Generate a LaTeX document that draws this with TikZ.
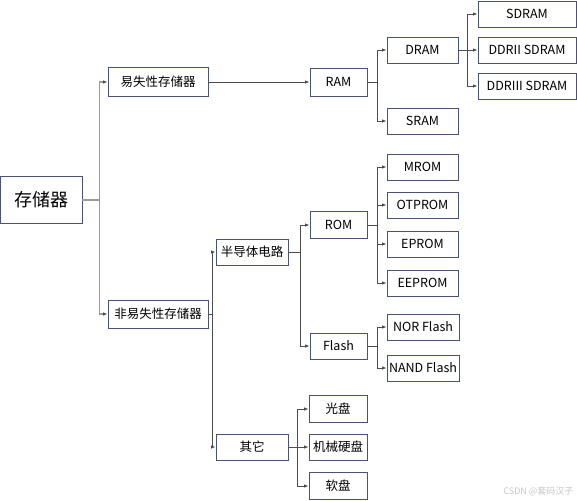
\documentclass[tikz,border=0pt]{standalone}
\usepackage{fontspec}
\setmainfont{Noto Sans CJK SC}
\usepackage{tikz}
\usetikzlibrary{arrows.meta}

\definecolor{boxline}{HTML}{4A5078}
\definecolor{linkline}{HTML}{4D4D4D}
\definecolor{rootline}{HTML}{9A9A9A}

\tikzset{
	box/.style={draw=boxline, fill=white, line width=0.9pt, inner sep=0pt, minimum height=26, font=\fontsize{12.5}{14}\selectfont},
	conn/.style={-{Latex[length=4.5pt,width=3.5pt]}, draw=linkline, line width=0.8pt},
	rootconn/.style={-{Latex[length=4.5pt,width=3.5pt,color=linkline]}, draw=rootline, line width=1.6pt},
}

\begin{document}
\begin{tikzpicture}[x=1pt, y=-1pt]
	\useasboundingbox (0,0) rectangle (577,500);

	% Root
	\node (root) at (41,200) [box, minimum width=82, minimum height=47, font=\fontsize{18}{20}\selectfont] {存储器};

	% First level
	\node (vol) at (158,82) [box, minimum width=100, minimum height=29] {易失性存储器};
	\node (nonvol) at (158,314) [box, minimum width=100, minimum height=28] {非易失性存储器};

	% Volatile branch
	\node (ram) at (338.5,82) [box, minimum width=57, minimum height=28] {RAM};
	\node (dram) at (422.5,50) [box, minimum width=71] {DRAM};
	\node (sram) at (422.5,121) [box, minimum width=71] {SRAM};
	\node (sdram) at (527,14) [box, minimum width=98] {SDRAM};
	\node (ddr2) at (527,50) [box, minimum width=98] {DDRII SDRAM};
	\node (ddr3) at (527,86) [box, minimum width=98] {DDRIII SDRAM};

	% Non-volatile branch
	\node (semi) at (252,252) [box, minimum width=72] {半导体电路};
	\node (other) at (252,447) [box, minimum width=72] {其它};
	\node (rom) at (338.5,225) [box, minimum width=57, minimum height=27] {ROM};
	\node (flash) at (338.5,346) [box, minimum width=57] {Flash};
	\node (mrom) at (422.5,167) [box, minimum width=71] {MROM};
	\node (otprom) at (422.5,205) [box, minimum width=71] {OTPROM};
	\node (eprom) at (422.5,244) [box, minimum width=71] {EPROM};
	\node (eeprom) at (422.5,283) [box, minimum width=71] {EEPROM};
	\node (nor) at (423,327) [box, minimum width=72] {NOR Flash};
	\node (nand) at (423,368) [box, minimum width=72] {NAND Flash};
	\node (cd) at (338,409) [box, minimum width=58, minimum height=27] {光盘};
	\node (hdd) at (338,447) [box, minimum width=58] {机械硬盘};
	\node (floppy) at (338,486) [box, minimum width=58, minimum height=27] {软盘};

	% Connectors from root
	\draw[rootconn] (root.east) -- ++(17,0) |- (vol.west);
	\draw[rootconn] (root.east) -- ++(17,0) |- (nonvol.west);

	% Volatile connectors
	\draw[conn] (vol.east) -- (ram.west);
	\draw[conn] (ram.east) -- ++(10,0) |- (dram.west);
	\draw[conn] (ram.east) -- ++(10,0) |- (sram.west);
	\draw[conn] (dram.east) -- ++(9,0) |- (sdram.west);
	\draw[conn] (dram.east) -- (ddr2.west);
	\draw[conn] (dram.east) -- ++(9,0) |- (ddr3.west);

	% Non-volatile connectors
	\draw[conn] (nonvol.east) -- ++(4,0) |- (semi.west);
	\draw[conn] (nonvol.east) -- ++(4,0) |- (other.west);
	\draw[conn] (semi.east) -- ++(12,0) |- (rom.west);
	\draw[conn] (semi.east) -- ++(12,0) |- (flash.west);
	\draw[conn] (rom.east) -- ++(10,0) |- (mrom.west);
	\draw[conn] (rom.east) -- ++(10,0) |- (otprom.west);
	\draw[conn] (rom.east) -- ++(10,0) |- (eprom.west);
	\draw[conn] (rom.east) -- ++(10,0) |- (eeprom.west);
	\draw[conn] (flash.east) -- ++(10,0) |- (nor.west);
	\draw[conn] (flash.east) -- ++(10,0) |- (nand.west);
	\draw[conn] (other.east) -- ++(9,0) |- (cd.west);
	\draw[conn] (other.east) -- (hdd.west);
	\draw[conn] (other.east) -- ++(9,0) |- (floppy.west);

	% Watermark
	\node (mark) at (577,491) [anchor=east, text=black!22, font=\fontsize{9}{10}\selectfont] {CSDN @套码汉子};
\end{tikzpicture}
\end{document}
